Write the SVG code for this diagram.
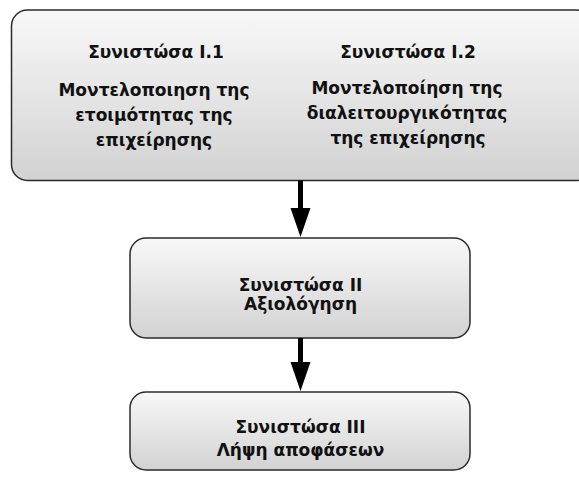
<svg xmlns="http://www.w3.org/2000/svg" width="579" height="480" viewBox="0 0 579 480">
  <defs>
    <linearGradient id="boxFill" x1="0" y1="0" x2="0" y2="1">
      <stop offset="0" stop-color="#f8f8f8"/>
      <stop offset="1" stop-color="#d2d2d2"/>
    </linearGradient>
    <style>
      .box { fill: url(#boxFill); stroke: #2b2b2b; stroke-width: 1.5; }
      .label { font-family: "DejaVu Sans", Verdana, sans-serif; font-weight: bold; font-size: 17px; fill: #111; text-anchor: middle; }
      .conn { stroke: #000; stroke-width: 5; fill: none; }
      .head { fill: #000; }
    </style>
  </defs>

  <!-- Component I: two modelling sub-components -->
  <g id="component-I">
    <rect class="box" x="11.5" y="10" width="580" height="170.5" rx="16" ry="16"/>
    <text class="label" x="156" y="58">Συνιστώσα Ι.1</text>
    <text class="label" x="154" y="96">Μοντελοποιηση της</text>
    <text class="label" x="154" y="121">ετοιμότητας της</text>
    <text class="label" x="154" y="146">επιχείρησης</text>
    <text class="label" x="408" y="58">Συνιστώσα Ι.2</text>
    <text class="label" x="407" y="94">Μοντελοποίηση της</text>
    <text class="label" x="407" y="119">διαλειτουργικότητας</text>
    <text class="label" x="408" y="144">της επιχείρησης</text>
  </g>

  <!-- Component II: evaluation -->
  <g id="component-II">
    <rect class="box" x="130" y="238" width="340" height="100" rx="16" ry="16"/>
    <text class="label" x="300.5" y="291">Συνιστώσα ΙΙ</text>
    <text class="label" x="300.5" y="310">Αξιολόγηση</text>
  </g>

  <!-- Component III: decision making -->
  <g id="component-III">
    <rect class="box" x="130" y="392" width="340" height="78" rx="16" ry="16"/>
    <text class="label" x="300.5" y="433">Συνιστώσα ΙΙΙ</text>
    <text class="label" x="300.5" y="456">Λήψη αποφάσεων</text>
  </g>

  <!-- Connectors -->
  <g id="connectors">
    <line class="conn" x1="300.5" y1="180.5" x2="300.5" y2="210"/>
    <path class="head" d="M290.5,208 L310.5,208 L300.5,237 Z"/>
    <line class="conn" x1="300.5" y1="338" x2="300.5" y2="364"/>
    <path class="head" d="M290.5,362 L310.5,362 L300.5,391 Z"/>
  </g>
</svg>
